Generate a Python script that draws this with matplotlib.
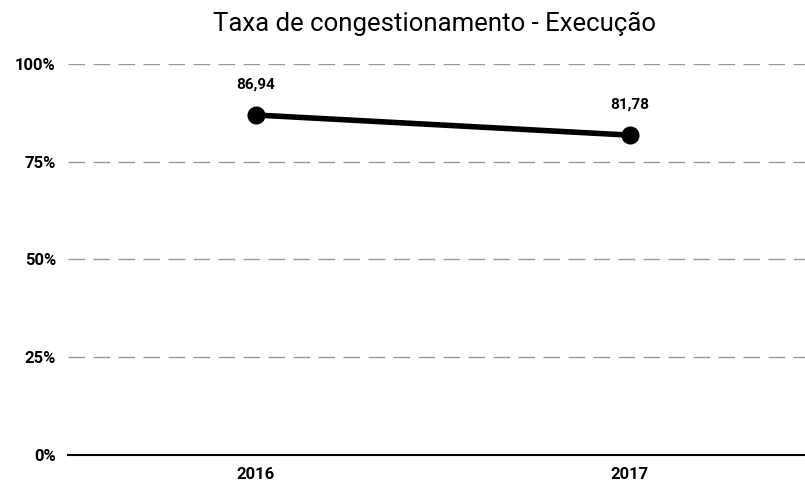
import matplotlib.pyplot as plt
from matplotlib.ticker import FuncFormatter

plt.rcParams['font.family'] = ['Roboto', 'DejaVu Sans']

years = ["2016", "2017"]
taxa = [86.94, 81.78]
value_labels = ["86,94", "81,78"]
y_ticks = [0, 25, 50, 75, 100]

fig = plt.figure(figsize=(8.05, 4.88), dpi=100)
ax = fig.add_axes([0.085, 0.068, 0.93, 0.801])

x = list(range(len(years)))
ax.plot(x, taxa, color="black", linewidth=4, marker="o", markersize=12,
        solid_capstyle="round", zorder=3)
for xi, yi, lab in zip(x, taxa, value_labels):
    ax.annotate(lab, (xi, yi), xytext=(0, 17), textcoords="offset points",
                ha="center", va="bottom", fontsize=11, fontweight="bold")

ax.set_xlim(-0.5, 1.5)
ax.set_ylim(0, 100)
ax.set_xticks(x)
ax.set_xticklabels(years, fontsize=12, fontweight="bold")
ax.set_yticks(y_ticks)
ax.yaxis.set_major_formatter(FuncFormatter(lambda v, p: f"{int(v)}%"))
for lab in ax.get_yticklabels():
    lab.set_fontweight("bold")
    lab.set_fontsize(12)
ax.tick_params(length=0, pad=9)

ax.grid(axis="y", color="#999999", linewidth=1, linestyle=(0, (12, 6)))
ax.set_axisbelow(True)
for s in ["top", "right", "left"]:
    ax.spines[s].set_visible(False)
ax.spines["bottom"].set_color("black")
ax.spines["bottom"].set_linewidth(1.5)

fig.suptitle("Taxa de congestionamento - Execução", fontsize=18.5, y=0.975, x=0.54)

fig.savefig("out.png", dpi=100)
